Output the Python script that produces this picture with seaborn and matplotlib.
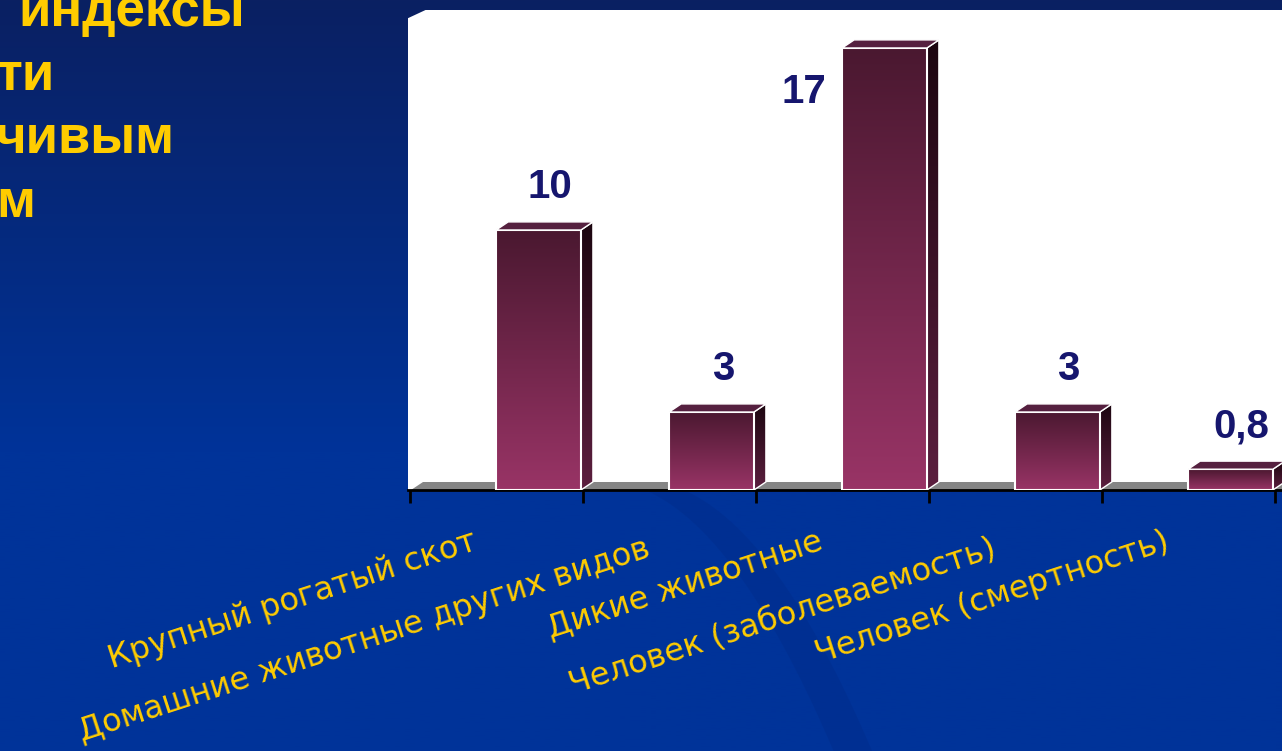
import numpy as np
import pandas as pd
import matplotlib
matplotlib.use("Agg")
import matplotlib.pyplot as plt
import seaborn as sns
from matplotlib.patches import Polygon
from matplotlib import transforms
from matplotlib.colors import to_rgb


# chart data
categories = [
    "Крупный рогатый скот",
    "Домашние животные других видов",
    "Дикие животные",
    "Человек (заболеваемость)",
    "Человек (смертность)",
]
values = [10, 3, 17, 3, 0.8]
value_labels = ["10", "3", "17", "3", "0,8"]
title_lines = ["индексы", "ти", "чивым", "м"]

W, H = 1282, 751
YELLOW = "#ffcc00"
NAVY = "#16166e"


def vgrad(top, bottom, n=256):
    # column of colours, first row at the top
    t = np.linspace(0, 1, n)[:, None]
    a, b = np.array(to_rgb(top)), np.array(to_rgb(bottom))
    return (a + (b - a) * t)[:, None, :]


sns.set_theme(style="white")
plt.rcParams["font.family"] = ["DejaVu Sans"]

fig = plt.figure(figsize=(W / 100, H / 100), dpi=100)

# slide background
bg = fig.add_axes([0, 0, 1, 1])
bg.axis("off")
t = np.clip(np.linspace(0, 1, 400) / 0.6, 0, 1)[:, None]
top_c, low_c = np.array(to_rgb("#0a2062")), np.array(to_rgb("#003399"))
bg.imshow((top_c + (low_c - top_c) * t)[:, None, :], aspect="auto", extent=[0, 1, 0, 1])
# faint swoosh in the lower part of the slide
sy = np.linspace(0, 0.36, 100)
bg.fill_betweenx(sy, 0.47 + 0.3 * (0.36 - sy) ** 0.5, 0.50 + 0.3 * (0.36 - sy) ** 0.5,
                 color="#002a85", alpha=0.35, linewidth=0)
bg.set_xlim(0, 1)
bg.set_ylim(0, 1)

# title fragments (cut off at the slide edge)
title_x = [18, -4, -4, -4]
title_base = [26, 90, 153, 217]
for txt, x, y in zip(title_lines, title_x, title_base):
    fig.text(x / W, 1 - y / H, txt, color=YELLOW, fontsize=38, fontweight="bold",
             family="Liberation Sans", va="baseline", ha="left")

# chart panel
ax = fig.add_axes([408 / W, (H - 490) / H, 922 / W, 480 / H])
ax.set_facecolor("white")

df = pd.DataFrame({"category": categories, "value": values})
sns.barplot(data=df, x="category", y="value", width=0.49, color="#963060",
            saturation=1, ax=ax, zorder=4)

ymax = 18.46
dx, dy = 0.069, 0.31

# floor
floor = Polygon([(-0.49, 0), (5.0, 0), (5.0, dy), (-0.49 + dx, dy)], closed=True,
                facecolor="#858585", edgecolor="none", zorder=2)
ax.add_patch(floor)

for i, p in enumerate(list(ax.patches)[:len(values)]):
    p.set_x(p.get_x() + p.get_width() / 2)
    x0 = p.get_x()
    x1 = x0 + p.get_width()
    h = p.get_height()
    p.set_facecolor("none")
    p.set_edgecolor("white")
    p.set_linewidth(1.5)
    p.set_zorder(6)
    im = ax.imshow(vgrad("#4a1830", "#993466"), extent=[x0, x1, 0, h],
                   aspect="auto", zorder=5)
    im.set_clip_path(p)

    side = Polygon([(x1, 0), (x1 + dx, dy), (x1 + dx, h + dy), (x1, h)], closed=True,
                   facecolor="none", edgecolor="white", linewidth=1, zorder=6)
    ax.add_patch(side)
    im2 = ax.imshow(vgrad("#1c0610", "#5c1f3f"), extent=[x1, x1 + dx, 0, h + dy],
                    aspect="auto", zorder=5)
    im2.set_clip_path(side)

    top = Polygon([(x0, h), (x1, h), (x1 + dx, h + dy), (x0 + dx, h + dy)], closed=True,
                  facecolor="#55203f", edgecolor="white", linewidth=1, zorder=6)
    ax.add_patch(top)

    # value label: above the bar, or beside it when there is no room
    cx = (x0 + x1 + dx) / 2
    if h + 1.65 + 0.7 > ymax:
        lx, ly = x0 - 0.22, h - 1.7
    else:
        lx, ly = cx + 0.03, h + 1.65
    ax.text(lx, ly, value_labels[i], ha="center", va="center", fontsize=29,
            fontweight="bold", color=NAVY, family="Liberation Sans", zorder=7)

ax.set_xlim(-0.51, 4.82)
ax.set_ylim(0, ymax)
ax.set_xticks(np.arange(len(categories) + 1) - 0.5)
ax.set_xticklabels([])
ax.set_yticks([])
ax.set_xlabel("")
ax.set_ylabel("")
ax.tick_params(axis="x", bottom=True, length=9, width=2, color="black", direction="out")
for side_name in ["top", "left", "right"]:
    ax.spines[side_name].set_visible(False)
ax.spines["bottom"].set_color("black")
ax.spines["bottom"].set_linewidth(2)

# cut corner of the panel
ax.add_patch(Polygon([(0, 1), (0.019, 1), (0, 0.983)], closed=True, transform=ax.transAxes,
                     facecolor="#0a2062", edgecolor="none", zorder=10, clip_on=False))

# category labels, staggered in two rows
blend = transforms.blended_transform_factory(ax.transData, fig.transFigure)
row_y = [549, 556]
for i, cat in enumerate(categories):
    ax.text(i - 0.1, 1 - row_y[i % 2] / H, cat, transform=blend, ha="right",
            va="baseline", rotation=18, rotation_mode="anchor", color=YELLOW,
            fontsize=23, clip_on=False)

fig.savefig("out.png", dpi=100)
